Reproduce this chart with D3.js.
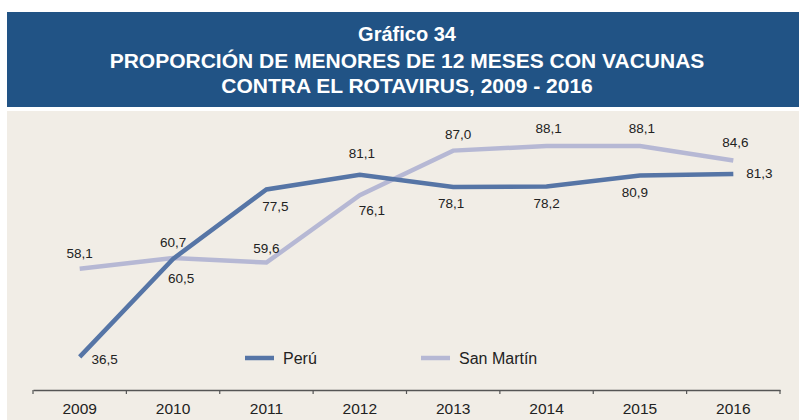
<!DOCTYPE html>
<meta charset="utf-8">
<script src="https://d3js.org/d3.v7.min.js"></script>
<style>
  body { margin: 0; background: #fff; }
  text { font-family: "Liberation Sans", Arial, sans-serif; }
</style>
<div id="chart"></div>
<script>

// data
var years = ["2009", "2010", "2011", "2012", "2013", "2014", "2015", "2016"];
var peru = [36.5, 60.5, 77.5, 81.1, 78.1, 78.2, 80.9, 81.3];
var sanMartin = [58.1, 60.7, 59.6, 76.1, 87.0, 88.1, 88.1, 84.6];
var seriesNames = ["Perú", "San Martín"];
var titleLines = ["Gráfico 34", "PROPORCIÓN DE MENORES DE 12 MESES CON VACUNAS", "CONTRA EL ROTAVIRUS, 2009 - 2016"];

// label placement (dx, dy from the point)
var peruLabelPos = [[25, 7], [8, 24], [9, 22], [2, -17], [-2, 21], [0, 21], [-5, 21], [13, 4]];
var smLabelPos = [[0, -11], [0, -11], [0, -10], [12, 20], [5, -12], [2, -13], [2, -13], [2, -13]];

var W = 799, H = 420;
var colors = {peru: "#5675a6", sm: "#b6b8d4", banner: "#215385", bg: "#f1ede6", text: "#222"};

var svg = d3.select("#chart").append("svg")
  .attr("width", W).attr("height", H);

// title banner
svg.append("rect").attr("x", 7).attr("y", 12).attr("width", W - 7).attr("height", 95)
  .style("fill", colors.banner);
svg.selectAll(".title").data(titleLines).enter().append("text")
  .attr("class", "title")
  .attr("x", 407)
  .attr("y", function(d, i) { return [41, 68, 93][i]; })
  .attr("text-anchor", "middle")
  .style("font-size", function(d, i) { return i === 0 ? "20px" : "21px"; })
  .style("font-weight", "bold").style("fill", "#fff")
  .text(function(d) { return d; });

// plot background
svg.append("rect").attr("x", 7).attr("y", 111).attr("width", W - 7).attr("height", H - 111)
  .style("fill", colors.bg);

// scales
var x = d3.scaleBand().domain(years).range([33, 780]);
var y = d3.scaleLinear().domain([0, 100]).range([506, 97.5]);

// x axis
var xAxis = svg.append("g")
  .attr("transform", "translate(0,390)")
  .call(d3.axisBottom(x).tickSize(0).tickPadding(13));
xAxis.select(".domain").style("stroke", "#555").style("stroke-width", 1.3);
xAxis.selectAll("text").style("font-size", "15.5px").style("fill", colors.text)
  .style("font-family", "'Liberation Sans', Arial, sans-serif");
// tick marks at band boundaries
svg.selectAll(".tick-mark").data(years.concat(["end"])).enter().append("line")
  .attr("x1", function(d, i) { return x.range()[0] + i * x.step(); })
  .attr("x2", function(d, i) { return x.range()[0] + i * x.step(); })
  .attr("y1", 390).attr("y2", 394)
  .style("stroke", "#555").style("stroke-width", 1.2);

var cx = function(d, i) { return x(years[i]) + x.bandwidth() / 2; };
var line = d3.line().x(cx).y(function(d) { return y(d); });

// lines
svg.append("path").datum(sanMartin).attr("d", line)
  .style("fill", "none").style("stroke", colors.sm).style("stroke-width", 4.5);
svg.append("path").datum(peru).attr("d", line)
  .style("fill", "none").style("stroke", colors.peru).style("stroke-width", 4.5);

function fmt(v) { return d3.format(".1f")(v).replace(".", ","); }

// labels
svg.selectAll(".lab-sm").data(sanMartin).enter().append("text")
  .attr("x", function(d, i) { return cx(d, i) + smLabelPos[i][0]; })
  .attr("y", function(d, i) { return y(d) + smLabelPos[i][1]; })
  .attr("text-anchor", "middle")
  .style("font-size", "13.5px").style("fill", colors.text)
  .text(fmt);
svg.selectAll(".lab-pe").data(peru).enter().append("text")
  .attr("x", function(d, i) { return cx(d, i) + peruLabelPos[i][0]; })
  .attr("y", function(d, i) { return y(d) + peruLabelPos[i][1]; })
  .attr("text-anchor", function(d, i) { return i === peru.length - 1 ? "start" : "middle"; })
  .style("font-size", "13.5px").style("fill", colors.text)
  .text(fmt);

// legend
var legend = svg.selectAll(".legend").data(seriesNames).enter().append("g")
  .attr("transform", function(d, i) { return "translate(" + [245, 421][i] + ",358)"; });
legend.append("line").attr("x1", 0).attr("x2", 29).attr("y1", 0).attr("y2", 0)
  .style("stroke", function(d, i) { return [colors.peru, colors.sm][i]; })
  .style("stroke-width", 4.5);
legend.append("text").attr("x", 38).attr("y", 5.5)
  .style("font-size", "16px").style("fill", colors.text)
  .text(function(d) { return d; });

</script>
